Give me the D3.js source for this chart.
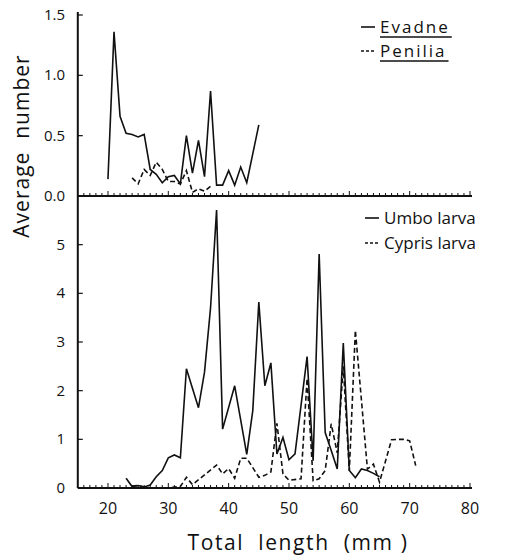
<!DOCTYPE html>
<html>
<head>
<meta charset="utf-8">
<script src="https://cdnjs.cloudflare.com/ajax/libs/d3/7.8.5/d3.min.js"></script>
<style>
  body { margin: 0; background: #fff; }
  svg { display: block; font-family: "Open Sans", "DejaVu Sans", sans-serif; }
</style>
</head>
<body>
<div id="chart"></div>
<script>
// Top panel: cladocerans
const evadneLen = [20, 21, 22, 23, 24, 25, 26, 27, 28, 29, 30, 31, 32, 33, 34, 35, 36, 37, 38, 39, 40, 41, 42, 43, 45];
const evadne    = [0.14, 1.36, 0.66, 0.52, 0.51, 0.49, 0.51, 0.22, 0.18, 0.11, 0.16, 0.17, 0.10, 0.50, 0.19, 0.46, 0.16, 0.87, 0.09, 0.09, 0.21, 0.09, 0.24, 0.11, 0.59];
const peniliaLen = [24, 25, 26, 27, 28, 29, 30, 31, 32, 33, 34, 35, 36, 37];
const penilia    = [0.15, 0.10, 0.22, 0.17, 0.28, 0.22, 0.12, 0.12, 0.10, 0.21, 0.03, 0.06, 0.04, 0.08];

// Bottom panel: barnacle larvae
const umboLen = [23, 24, 25, 26, 27, 28, 29, 30, 31, 32, 33, 35, 36, 37, 38, 39, 41, 43, 44, 45, 46, 47, 48, 49, 50, 51, 53, 54, 55, 56, 57, 58, 59, 60, 61, 62, 63, 64, 65];
const umbo    = [0.20, 0.03, 0.05, 0.02, 0.06, 0.23, 0.36, 0.62, 0.68, 0.62, 2.45, 1.65, 2.38, 3.7, 5.71, 1.21, 2.10, 0.69, 1.59, 3.82, 2.10, 2.57, 0.70, 1.04, 0.58, 0.70, 2.70, 0.56, 4.81, 1.14, 0.77, 0.39, 2.98, 0.36, 0.21, 0.39, 0.36, 0.30, 0.23];
const cyprisLen = [24, 25, 26, 27, 28, 29, 30, 31, 32, 33, 34, 38, 39, 40, 41, 42, 43, 44, 45, 46, 47, 48, 49, 50, 52, 53, 54, 55, 56, 57, 58, 59, 60, 61, 63, 64, 65, 67, 68, 69, 70, 71];
const cypris    = [0.04, 0.05, 0.02, 0.0, 0.0, 0.0, 0.0, 0.02, 0.03, 0.22, 0.07, 0.47, 0.29, 0.40, 0.20, 0.61, 0.61, 0.42, 0.22, 0.26, 0.33, 1.33, 0.29, 0.16, 0.19, 2.25, 0.15, 0.19, 0.36, 1.32, 0.72, 2.5, 0.35, 3.24, 0.39, 0.49, 0.12, 0.99, 1.0, 1.0, 0.97, 0.46];

const xTicks = [20, 30, 40, 50, 60, 70, 80];
const topTicks = [0, 0.5, 1.0, 1.5];
const botTicks = [0, 1, 2, 3, 4, 5];

const W = 516, H = 558;
const svg = d3.select("#chart").append("svg").attr("width", W).attr("height", H);

const x = d3.scaleLinear().domain([15, 80]).range([77.8, 470]);
const yTop = d3.scaleLinear().domain([0, 1.5]).range([196, 15]);
const yBot = d3.scaleLinear().domain([0, 6]).range([488, 196]);

const ink = "#111";

// axes frame
svg.append("line").attr("x1", x(15)).attr("x2", x(15)).attr("y1", 12).attr("y2", yBot(0))
  .attr("stroke", ink).attr("stroke-width", 2);
[yBot(0), yTop(0)].forEach(yy => {
  svg.append("line").attr("x1", x(15)).attr("x2", x(80) + 2).attr("y1", yy).attr("y2", yy)
    .attr("stroke", ink).attr("stroke-width", 2);
  // minor ticks every mm, pointing up
  svg.append("g").selectAll("line").data(d3.range(16, 81)).join("line")
    .attr("x1", d => x(d)).attr("x2", d => x(d))
    .attr("y1", yy).attr("y2", d => yy - (d % 10 === 0 ? 5 : 3))
    .attr("stroke", ink).attr("stroke-width", 1);
});

// x tick labels
svg.append("g").selectAll("text").data(xTicks).join("text")
  .attr("x", d => x(d)).attr("y", 514)
  .attr("text-anchor", "middle").attr("font-size", 16).attr("fill", ink)
  .text(d => d);

// y ticks + labels
function yAxis(scale, ticks, fmt) {
  const g = svg.append("g");
  g.selectAll("line").data(ticks).join("line")
    .attr("x1", x(15)).attr("x2", x(15) + 5)
    .attr("y1", d => scale(d)).attr("y2", d => scale(d))
    .attr("stroke", ink).attr("stroke-width", 1.2);
  g.selectAll("text").data(ticks).join("text")
    .attr("x", 65).attr("y", d => scale(d) + 1)
    .attr("text-anchor", "end").attr("dominant-baseline", "middle")
    .attr("font-size", 15).attr("fill", ink)
    .text(fmt);
}
yAxis(yTop, topTicks, d => d3.format(".1f")(d));
yAxis(yBot, botTicks, d => d);

// axis titles
svg.append("text").attr("transform", "translate(29,146) rotate(-90)")
  .attr("text-anchor", "middle").attr("font-size", 21).attr("fill", ink)
  .attr("letter-spacing", 1).attr("xml:space", "preserve")
  .text("Average  number");
svg.append("text").attr("x", 298).attr("y", 550)
  .attr("text-anchor", "middle").attr("font-size", 21).attr("fill", ink)
  .attr("letter-spacing", 1.6).attr("xml:space", "preserve")
  .text("Total  length  (mm )");

// series
function series(lens, vals, scale, dashed) {
  const line = d3.line().x(d => x(d[0])).y(d => scale(d[1]));
  svg.append("path").datum(d3.zip(lens, vals))
    .attr("d", line).attr("fill", "none")
    .attr("stroke", ink).attr("stroke-width", 1.6)
    .attr("stroke-linejoin", "miter")
    .attr("stroke-dasharray", dashed ? "5,3" : null);
}
series(evadneLen, evadne, yTop, false);
series(peniliaLen, penilia, yTop, true);
series(cyprisLen, cypris, yBot, true);
series(umboLen, umbo, yBot, false);

// legends
function legendItem(lx, ly, label, dashed, underline, spacing) {
  svg.append("line").attr("x1", lx).attr("x2", lx + 14).attr("y1", ly).attr("y2", ly)
    .attr("stroke", ink).attr("stroke-width", 1.6)
    .attr("stroke-dasharray", dashed ? "3,2" : null);
  const t = svg.append("text").attr("x", lx + 19).attr("y", ly + 6)
    .attr("font-size", 17).attr("fill", ink)
    .attr("letter-spacing", spacing).text(label);
  if (underline) {
    const w = t.node().getComputedTextLength();
    svg.append("line").attr("x1", lx + 19).attr("x2", lx + 19 + w + 2)
      .attr("y1", ly + 10).attr("y2", ly + 10)
      .attr("stroke", ink).attr("stroke-width", 1.4);
  }
}
legendItem(361, 27, "Evadne", false, true, 2);
legendItem(361, 51, "Penilia", true, true, 2);
legendItem(365, 218, "Umbo larva", false, false, 0);
legendItem(365, 243, "Cypris larva", true, false, 0);
</script>
</body>
</html>
